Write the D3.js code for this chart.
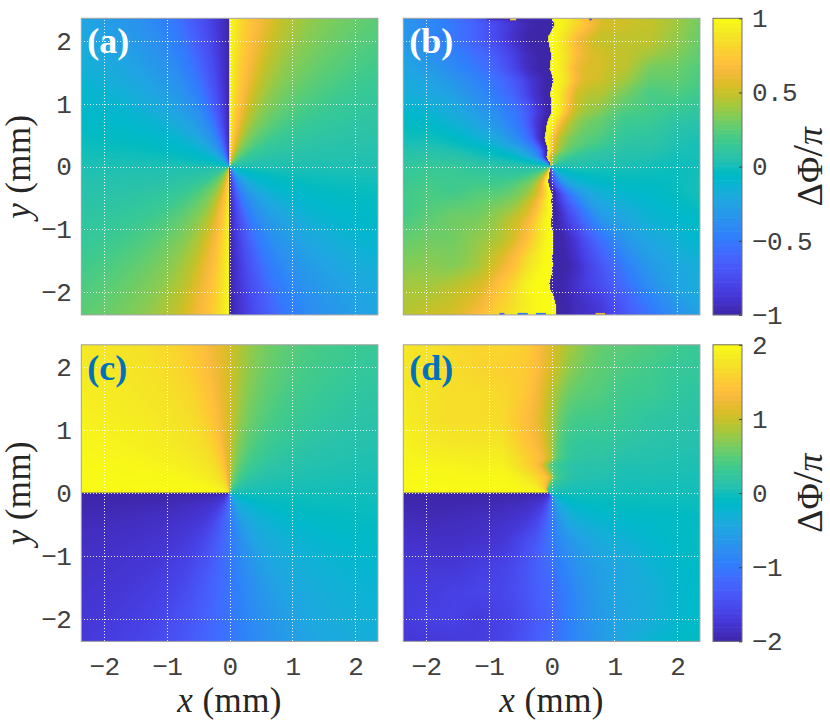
<!DOCTYPE html>
<html>
<head>
<meta charset="utf-8">
<style>
  body { margin: 0; background: #fff; }
  svg { display: block; }
  .tick text { font-family: "Liberation Mono", monospace; font-size: 26px; letter-spacing: -0.6px; fill: #404040; }
  .grid line { stroke: #fff; stroke-width: 1; stroke-dasharray: 1 2; opacity: 0.9; shape-rendering: crispEdges; }
  .grid path { display: none; }
  .label { font-family: "Liberation Serif", serif; font-size: 35px; fill: #262626; letter-spacing: 0.4px; }
  .tag { font-family: "Liberation Serif", serif; font-weight: bold; font-size: 36px; }
</style>
<script src="https://cdn.jsdelivr.net/npm/d3@7"></script>
</head>
<body>
<script>
//tick values
var xTicks = [-2, -1, 0, 1, 2];
var yTicks = [-2, -1, 0, 1, 2];
var cbTicksTop = [-1, -0.5, 0, 0.5, 1];
var cbTicksBottom = [-2, -1, 0, 1, 2];
var panelTags = ["(a)", "(b)", "(c)", "(d)"];

//polar angle in degrees, read around the centre of each panel. +-90 is listed twice because of the jump
var angles = [-180,-165,-150,-135,-120,-110,-104,-100,-96,-93,-90,-90,-87,-84,-80,-76,-70,-60,-45,-30,-15,0,15,30,45,60,70,76,80,84,87,90,90,93,96,100,104,110,120,135,150,165,180];

//delta phi / pi along those angles
var phaseA = [.03,.08,.15,.25,.36,.48,.6,.68,.78,.88,1,-1,-.92,-.84,-.74,-.66,-.52,-.38,-.24,-.12,-.05,.03,.08,.15,.25,.36,.48,.6,.68,.78,.88,1,-1,-.92,-.84,-.74,-.66,-.52,-.38,-.24,-.12,-.05,.03];
var phaseB = [.06,.12,.22,.32,.5,.66,.8,.88,.96,1,1,-1,-1,-.96,-.9,-.82,-.7,-.52,-.28,-.14,-.05,.02,.08,.2,.3,.44,.6,.76,.88,.96,1,1,-1,-1,-.96,-.9,-.84,-.7,-.52,-.36,-.2,-.05,.06];
var phaseC = [-2,-1.88,-1.8,-1.72,-1.58,-1.42,-1.32,-1.24,-1.16,-1.1,-1.04,-1.04,-.96,-.9,-.82,-.74,-.62,-.46,-.32,-.22,-.1,0,.08,.16,.28,.4,.52,.62,.7,.82,.94,1.08,1.08,1.16,1.24,1.38,1.48,1.6,1.72,1.8,1.88,1.96,2];
var phaseD = [-2,-1.9,-1.82,-1.74,-1.6,-1.46,-1.34,-1.24,-1.14,-1.08,-1.02,-1.02,-.94,-.86,-.78,-.7,-.58,-.44,-.3,-.18,-.08,0,.08,.16,.24,.34,.44,.52,.6,.72,.86,1,1,1.1,1.2,1.3,1.38,1.46,1.56,1.7,1.84,1.94,2];

//position of the jump in x (mm), one value per 0.1 mm going down from the top edge
var cutB = [0,.05,0,-.06,-.04,-.02,0,-.02,-.03,.01,.03,0,-.02,-.005,0,0,-.05,-.08,-.09,-.11,-.08,-.06,-.08,-.02,-.02,-.04,-.05,-.02,.01,0,.01,.01,0,0,.025,.035,.025,.025,.01,.025,.01,0,-.03,-.015,.035,.06,.08,.07];
var cutD = [0,0,0,0,0,0,0,0,0,0,0,0,0,0,0,0,0,0,0,-.1,-.06,0,-.05,-.08,0,0,0,0,0,0,0,0,0,0,0,0,0,0,0,0,0,0,0,0,0,0,0,0];

//mottling left over once the angle is accounted for, in hundredths, rows from top edge to bottom edge
var mottleB = [
  [ 2, 0,-4,-10,-12,-8, 0,-8,-10, 2, 8, 6, 0],
  [ 0,-4,-6,-10,-10,-8, 0,-14,-6, 6,12, 8, 2],
  [ 2, 0,-4,-6,-8,-8, 0,-10, 6,10, 2, 4, 0],
  [ 0, 0, 0,-4,-6,-4, 0,-8, 6, 2,-4, 2, 0],
  [ 2, 2, 0,-2,-4,-4, 0,-4, 0,-4, 0,-2,-2],
  [ 2, 4, 2, 0,-2,-4, 0, 2, 4, 0, 2,-2,-4],
  [ 6, 8, 8, 4, 2, 0, 0, 2, 0, 0,-2,-4,-2],
  [ 8,10, 6, 8, 4, 4, 0,-4,-2,-2,-2, 0, 4],
  [ 4, 8,10, 6, 8, 4, 0,-8,-2,-4, 0, 0, 2],
  [ 8, 8, 4, 6, 2, 4, 0,-10,-8,-4,-2, 0, 4],
  [10, 8, 2, 0, 6, 8, 0,-10,-10,-6,-2, 0, 2],
  [14,10, 8, 6,12,10, 0,-4,-10,-8,-2, 2, 4],
  [14,14,10,14,18,10, 0, 0,-10,-8,-4, 0, 4]
];
var mottleD = [
  [ 4, 4, 4, 4,10,12, 6, 8, 4, 6, 6, 4, 2],
  [ 2, 2, 2, 2, 4, 8, 4, 4, 4, 4, 4, 2, 2],
  [ 0, 0, 0, 4, 6, 4,-4, 0, 4, 2, 4, 2, 0],
  [ 0,-4,-4, 0, 4,-4,-8,-4, 2, 2, 0, 0, 0],
  [ 0,-4,-4,-2, 4,-4,-8,-6, 0, 0, 0, 0, 0],
  [ 0, 0, 0, 0, 4, 0,-4,-4, 0,-2, 0, 0, 0],
  [ 0, 0, 0, 0, 0, 0, 0, 0, 0, 0, 0, 0, 0],
  [ 2, 0, 0, 0, 0, 0, 0, 0,-2,-2,-2,-2,-2],
  [ 4, 2, 0, 0, 0, 4, 0,-6,-4,-4,-2, 0, 2],
  [ 6, 4, 2, 4, 2, 2,-4,-6,-6,-6,-2, 0, 2],
  [ 6, 4, 6, 4, 0,-2,-8,-6,-4,-2,-2, 2, 4],
  [ 4, 6, 4,-4,-6,-8,-10,-4,-2,-2, 0, 4, 6],
  [ 0,-2,-4,-6,-8,-8,-6,-2, 0, 4, 8,10,12]
];

//strips along the top and bottom edge of (b): from x, to x, value
var edgeTopB = [[-1.03,-.66,-.95],[-.66,-.56,.8],[-.56,-.03,-.95],[.6,.64,-.8]];
var edgeBottomB = [[-.83,-.75,-.6],[-.54,-.38,-.5],[-.25,-.09,-.5],[.7,.85,.6]];

//parula
var parula = ["#3e26a8","#402ab4","#422ec0","#4432cb","#4537d5","#463cde","#4741e5","#4747eb","#484df0","#4852f4","#4758f8","#465efb","#4563fd","#4269fe","#3e6fff","#3875fe","#327cfc","#2f81fa","#2d87f7","#2d8cf3","#2b91ef","#2796eb","#259be8","#23a0e5","#20a5e3","#1ca9df","#18add9","#11b1d6","#08b5d0","#01b8ca","#02bac3","#0bbdbd","#19bfb6","#24c1ae","#2cc3a7","#31c69f","#37c897","#3fca8e","#4acb84","#57cc7a","#63cd6f","#71cc64","#80cc59","#8fca4e","#9dc943","#abc739","#b9c431","#c5c22a","#d1bf27","#dcbd29","#e6bb2d","#efba36","#f8ba3d","#febe3c","#fec338","#fdc934","#fccf30","#f9d62d","#f7dc2a","#f5e327","#f5e924","#f6ef20","#f7f51b","#f9fb14"];

//layout of the figure
var width = 830,
    height = 725,
    panelSize = 296.6;
var leftA = 81.3, leftB = 403.3, topA = 18.3, topC = 344.8;
var domainMax = 2.36;

var svg = d3.select("body").append("svg").attr("width", width).attr("height", height);

//value to colour, the same ramp for each range
function makeColor(max){
    return d3.scaleLinear()
        .domain(parula.map(function(c, i){ return -max + 2 * max * i / (parula.length - 1); }))
        .range(parula)
        .clamp(true);
}

function drawPanel(p){
    var x = d3.scaleLinear().domain([-domainMax, domainMax]).range([p.left, p.left + panelSize]);
    var y = d3.scaleLinear().domain([-domainMax, domainMax]).range([p.top + panelSize, p.top]);
    var color = makeColor(p.max);

    //angle lookup goes through a scale too
    var byAngle = d3.scaleLinear().domain(angles).range(p.phase);
    var cutScale = p.cut ? d3.scaleLinear().domain(p.cut.map(function(c, i){ return domainMax - 0.1 * i * (2 * domainMax / 4.7); })).range(p.cut) : null;
    var gridRow = d3.scaleLinear().domain([domainMax, -domainMax]).range([0, 12]);
    var gridCol = d3.scaleLinear().domain([-domainMax, domainMax]).range([0, 12]);

    //paint the map pixel by pixel, then put it in the svg as an image
    var size = Math.round(panelSize);
    var canvas = document.createElement("canvas");
    canvas.width = size;
    canvas.height = size;
    var ctx = canvas.getContext("2d");
    var img = ctx.createImageData(size, size);
    for (var j = 0; j < size; j++){
        var my = y.invert(p.top + j + 0.5);
        var shift = cutScale ? cutScale(my) : 0;
        for (var i = 0; i < size; i++){
            var mx = x.invert(p.left + i + 0.5);
            var th = Math.atan2(my, mx - shift) * 180 / Math.PI;
            var v = byAngle(th);
            if (p.mottle){
                var r = Math.min(gridRow(my), 11.999), c = Math.min(gridCol(mx), 11.999);
                var r0 = Math.floor(r), c0 = Math.floor(c), fr = r - r0, fc = c - c0;
                var m = p.mottle[r0][c0] * (1 - fr) * (1 - fc) + p.mottle[r0][c0 + 1] * (1 - fr) * fc +
                        p.mottle[r0 + 1][c0] * fr * (1 - fc) + p.mottle[r0 + 1][c0 + 1] * fr * fc;
                v += m / 100 * (p.max);
            }
            var rgb = d3.rgb(color(v));
            var k = 4 * (j * size + i);
            img.data[k] = rgb.r;
            img.data[k + 1] = rgb.g;
            img.data[k + 2] = rgb.b;
            img.data[k + 3] = 255;
        }
    }
    ctx.putImageData(img, 0, 0);
    svg.append("image")
        .attr("x", p.left)
        .attr("y", p.top)
        .attr("width", panelSize)
        .attr("height", panelSize)
        .attr("preserveAspectRatio", "none")
        .attr("href", canvas.toDataURL());

    //thin strips on the edges of the measured map
    if (p.edgeTop){
        svg.append("g").selectAll("rect")
            .data(p.edgeTop.map(function(d){ return {e: d, at: p.top}; }).concat(p.edgeBottom.map(function(d){ return {e: d, at: p.top + panelSize - 2}; })))
            .enter()
            .append("rect")
            .attr("x", function(d){ return x(d.e[0]); })
            .attr("y", function(d){ return d.at; })
            .attr("width", function(d){ return x(d.e[1]) - x(d.e[0]); })
            .attr("height", 2)
            .attr("fill", function(d){ return color(d.e[2]); });
    }

    //white dotted grid
    svg.append("g")
        .attr("class", "grid")
        .attr("transform", "translate(0," + (p.top + panelSize) + ")")
        .call(d3.axisBottom(x).tickValues(xTicks).tickSize(-panelSize).tickFormat(""));
    svg.append("g")
        .attr("class", "grid")
        .attr("transform", "translate(" + p.left + ",0)")
        .call(d3.axisLeft(y).tickValues(yTicks).tickSize(-panelSize).tickFormat(""));

    //box
    svg.append("rect")
        .attr("x", p.left)
        .attr("y", p.top)
        .attr("width", panelSize)
        .attr("height", panelSize)
        .attr("fill", "none")
        .attr("stroke", "#a0a0a0")
        .attr("stroke-width", 1);

    //tick labels only on the outer side
    var fmt = function(d){ return String(d).replace("-", "\u2212"); };
    if (p.showY){
        var ya = svg.append("g")
            .attr("transform", "translate(" + p.left + ",0)")
            .call(d3.axisLeft(y).tickValues(yTicks).tickSize(0).tickPadding(10).tickFormat(fmt));
        ya.select(".domain").remove();
        svg.append("text")
            .attr("class", "label")
            .attr("transform", "translate(30," + y(0) + ") rotate(-90)")
            .attr("text-anchor", "middle")
            .html('<tspan font-style="italic">y</tspan> (mm)');
    }
    if (p.showX){
        var xa = svg.append("g")
            .attr("transform", "translate(0," + (p.top + panelSize) + ")")
            .call(d3.axisBottom(x).tickValues(xTicks).tickSize(0).tickPadding(15).tickFormat(fmt));
        xa.select(".domain").remove();
        svg.append("text")
            .attr("class", "label")
            .attr("x", x(0))
            .attr("y", 712)
            .attr("text-anchor", "middle")
            .html('<tspan font-style="italic">x</tspan> (mm)');
    }

    //panel letter
    svg.append("text")
        .attr("class", "tag")
        .attr("x", p.left + 6)
        .attr("y", p.top + 35)
        .attr("fill", p.tagColor)
        .text(p.tag);
}

function drawColorbar(top, max, ticks){
    var cbLeft = 713, cbWidth = 29;
    var color = makeColor(max);
    var y = d3.scaleLinear().domain([-max, max]).range([top + panelSize, top]);
    var levels = d3.range(parula.length).map(function(i){ return -max + 2 * max * (i + 0.5) / parula.length; });
    var step = panelSize / parula.length;

    svg.append("g").selectAll("rect")
        .data(levels)
        .enter()
        .append("rect")
        .attr("x", cbLeft)
        .attr("y", function(d){ return y(d) - step / 2 - 0.3; })
        .attr("width", cbWidth)
        .attr("height", step + 0.6)
        .attr("fill", function(d){ return color(d); });

    svg.append("rect")
        .attr("x", cbLeft)
        .attr("y", top)
        .attr("width", cbWidth)
        .attr("height", panelSize)
        .attr("fill", "none")
        .attr("stroke", "#707070")
        .attr("stroke-width", 1);

    var axis = svg.append("g")
        .attr("transform", "translate(" + (cbLeft + cbWidth) + ",0)")
        .call(d3.axisRight(y).tickValues(ticks).tickSize(-3).tickPadding(10)
            .tickFormat(function(d){ return String(d).replace("-", "\u2212"); }));
    axis.select(".domain").remove();
    axis.selectAll("line").attr("stroke", "#404040");

    //rotated colourbar title
    svg.append("text")
        .attr("transform", "translate(822," + y(0) + ") rotate(-90)")
        .attr("text-anchor", "middle")
        .attr("font-family", "Liberation Serif, serif")
        .attr("font-size", 36)
        .attr("fill", "#262626")
        .html('\u0394\u03A6<tspan font-size="42">/</tspan><tspan font-style="italic">\u03C0</tspan>');
}

var panels = [
    {tag: panelTags[0], left: leftA, top: topA, max: 1, phase: phaseA, showY: true, showX: false, tagColor: "#fff"},
    {tag: panelTags[1], left: leftB, top: topA, max: 1, phase: phaseB, cut: cutB, mottle: mottleB, edgeTop: edgeTopB, edgeBottom: edgeBottomB, showY: false, showX: false, tagColor: "#fff"},
    {tag: panelTags[2], left: leftA, top: topC, max: 2, phase: phaseC, showY: true, showX: true, tagColor: "#0072bd"},
    {tag: panelTags[3], left: leftB, top: topC, max: 2, phase: phaseD, cut: cutD, mottle: mottleD, showY: false, showX: true, tagColor: "#0072bd"}
];
panels.forEach(drawPanel);

drawColorbar(topA, 1, cbTicksTop);
drawColorbar(topC, 2, cbTicksBottom);
</script>
</body>
</html>
